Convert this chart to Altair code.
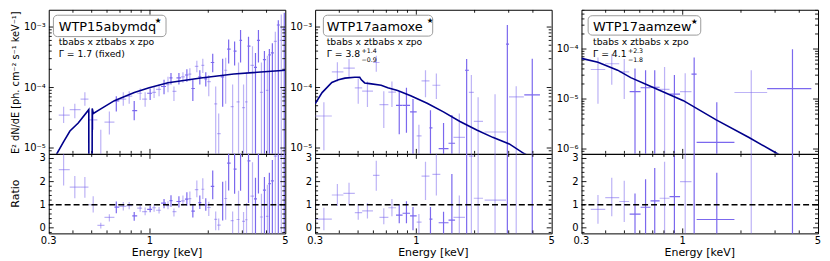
import altair as alt
import pandas as pd

# ---------------- data ----------------
names = ["WTP15abymdq", "WTP17aamoxe", "WTP17aamzew"]
model_text = "tbabs x ztbabs x zpo"
gamma_main = ["Γ = 1.7 (fixed)", "Γ = 3.8", "Γ = 4.1"]
gamma_up = ["", "+1.4", "+2.3"]
gamma_dn = ["", "−0.9", "−1.8"]
y_title = "E² dN/dE [ph. cm⁻² s⁻¹ keV⁻¹]"
r_title = "Ratio"
x_title = "Energy [keV]"

# panel 1 : WTP15abymdq
e1 = [0.358,0.409,0.461,0.509,0.557,0.617,0.670,0.728,0.781,0.829,
      0.890,0.944,1.002,1.050,1.114,1.182,1.239,1.284,1.330,1.411,
      1.480,1.551,1.607,1.665,1.746,1.809,1.874,1.942,2.012,2.109,
      2.185,2.264,2.374,2.460,2.549,2.672,2.736,2.867,2.937,3.043,
      3.153,3.228,3.385,3.507,3.633,3.765,3.901,4.041,4.137,4.287,
      4.441,4.602,4.768,4.940]
e1_lo = [0.338,0.385,0.438,0.481,0.535,0.582,0.655,0.694,0.754,0.810,
         0.859,0.911,0.967,1.026,1.075,1.141,1.210,1.261,1.307,1.370,
         1.445,1.515,1.579,1.636,1.705,1.777,1.842,1.908,1.977,2.061,
         2.147,2.225,2.319,2.417,2.504,2.610,2.704,2.800,2.901,2.990,
         3.098,3.190,3.305,3.445,3.570,3.698,3.832,3.970,4.089,4.211,
         4.363,4.521,4.684,4.853]
e1_hi = [0.385,0.438,0.481,0.535,0.582,0.655,0.694,0.754,0.810,0.859,
         0.911,0.967,1.026,1.075,1.141,1.210,1.261,1.307,1.370,1.445,
         1.515,1.579,1.636,1.705,1.777,1.842,1.908,1.977,2.061,2.147,
         2.225,2.319,2.417,2.504,2.610,2.704,2.800,2.901,2.990,3.098,
         3.190,3.305,3.445,3.570,3.698,3.832,3.970,4.089,4.211,4.363,
         4.521,4.684,4.853,5.000]
f1 = [3.5e-5,4.32e-5,6.45e-5,2.92e-5,4.8e-6,2.68e-5,6.0e-5,6.45e-5,7.2e-5,4.16e-5,
      8.04e-5,6.45e-5,8.04e-5,8.34e-5,9.29e-5,1.04e-4,1.12e-4,1.44e-4,8.65e-5,1.44e-4,
      1.50e-4,1.61e-4,1.67e-4,9.64e-5,2.23e-4,1.50e-4,2.32e-4,1.39e-4,1.25e-4,2.59e-4,
      5.37e-5,1.73e-5,1.50e-4,1.93e-4,4.32e-4,4.82e-5,4.01e-4,5.78e-5,6.0e-4,4.64e-5,
      5.78e-5,4.82e-4,2.32e-4,2.16e-4,6.0e-4,8.34e-5,2.89e-4,8.95e-5,3.47e-4,3.73e-4,
      5.78e-4,1.08e-3,6.0e-4,9.3e-4]
f1_lo = [2.59e-5,3.1e-5,4.99e-5,2.0e-5,1e-8,1.67e-5,4.01e-5,4.99e-5,5.37e-5,2.88e-5,
         6.22e-5,4.82e-5,6.22e-5,6.69e-5,7.2e-5,7.75e-5,8.34e-5,1.12e-4,6.0e-5,1.12e-4,
         1.20e-4,1.25e-4,1.29e-4,6.0e-5,1.79e-4,1.12e-4,1.73e-4,1.04e-4,7.2e-5,1.79e-4,
         1e-8,1e-8,4.82e-5,5.37e-5,2.49e-4,1e-8,2.32e-4,1e-8,2.59e-4,1e-8,
         1e-8,1.79e-4,1e-8,1e-8,2.59e-4,1e-8,1e-8,1e-8,1e-8,1e-8,
         1e-8,1e-8,1e-8,1e-8]
f1_hi = [4.82e-5,5.37e-5,8.34e-5,3.73e-5,2.0e-5,4.01e-5,7.2e-5,8.34e-5,8.65e-5,6.0e-5,
         9.64e-5,8.34e-5,9.64e-5,1.04e-4,1.12e-4,1.34e-4,1.50e-4,1.73e-4,1.04e-4,1.73e-4,
         1.79e-4,2.0e-4,2.08e-4,1.34e-4,2.78e-4,1.93e-4,2.99e-4,1.79e-4,1.61e-4,3.6e-4,
         1.04e-4,3.73e-5,2.99e-4,3.1e-4,6.22e-4,1.12e-4,5.78e-4,2.59e-4,8.96e-4,1.12e-4,
         1.79e-4,6.94e-4,4.82e-4,3.73e-4,8.96e-4,2.59e-4,4.0e-4,3.34e-4,4.32e-4,5.37e-4,
         8.33e-4,1.29e-3,1.61e-3,1.73e-3]
r1 = [2.52,1.76,1.76,1.00,0.11,0.45,0.90,0.93,0.96,0.52,
      0.85,0.70,0.80,0.87,0.76,1.07,0.96,1.18,0.70,1.14,
      1.17,1.24,1.26,0.72,1.65,1.09,1.67,0.99,0.88,1.79,
      0.37,0.12,1.00,1.27,2.80,0.31,2.54,0.36,3.70,0.28,
      0.35,2.90,1.37,1.25,3.45,0.47,1.63,0.50,1.91,2.03,
      3.10,5.70,3.10,4.80]
r1_lo = [1.83,1.28,1.30,0.66,-0.03,0.27,0.63,0.75,0.80,0.31,
         0.70,0.55,0.67,0.70,0.62,0.85,0.80,0.91,0.49,0.88,
         0.94,0.96,0.98,0.45,1.32,0.81,1.25,0.74,0.51,1.24,
         -0.10,-0.10,0.32,0.35,1.62,-0.30,1.47,-0.30,1.60,-0.30,
         -0.30,1.08,-0.30,-0.30,1.49,-0.30,-0.30,-0.30,-0.30,-0.30,
         -0.30,-0.30,-0.30,-0.30]
r1_hi = [3.20,2.24,2.20,1.37,0.22,0.59,1.14,1.12,1.12,0.69,
         1.00,0.88,0.95,1.02,0.90,1.25,1.15,1.41,0.84,1.37,
         1.40,1.54,1.57,1.00,2.05,1.40,2.15,1.28,1.13,2.48,
         0.71,0.40,1.99,2.04,4.00,0.71,3.66,1.61,5.40,0.68,
         1.08,4.16,2.84,2.17,5.16,1.47,2.20,1.86,2.38,2.93,
         4.48,7.00,8.40,8.90]
g1 = ["b","b","b","b","b","b","a","b","b","a",
      "b","b","a","b","b","a","b","a","b","a",
      "b","a","b","a","b","a","b","a","b","a",
      "b","b","a","b","a","b","a","b","a","b",
      "b","a","b","a","a","b","a","b","a","a",
      "b","a","b","a"]
em1 = [0.325,0.330,0.357,0.386,0.426,0.483,0.484,0.502,0.503,0.510,0.560,0.655,0.830,0.990,1.240,1.830,2.710,5.000]
fm1 = [6.5e-6,8.0e-6,1.25e-5,1.91e-5,2.59e-5,4.31e-5,1e-7,1e-7,4.5e-5,3.73e-5,4.48e-5,6.07e-5,8.24e-5,9.88e-5,1.20e-4,1.44e-4,1.67e-4,1.93e-4]

# panel 2 : WTP17aamoxe
e2 = [0.333,0.391,0.449,0.501,0.559,0.621,0.679,0.748,0.816,0.889,0.961,1.031,1.115,
      1.183,1.269,1.382,1.526,1.667,1.819,1.924,2.085,2.55,2.952,3.28,3.97]
e2_lo = [0.300,0.366,0.420,0.481,0.525,0.597,0.645,0.717,0.785,0.849,0.928,1.004,1.064,
         1.169,1.211,1.304,1.466,1.555,1.783,1.868,1.981,2.253,2.906,3.01,3.61]
e2_hi = [0.366,0.420,0.481,0.525,0.597,0.645,0.717,0.785,0.849,0.928,1.004,1.064,1.169,
         1.211,1.330,1.466,1.585,1.783,1.868,1.981,2.209,2.906,3.01,3.59,4.35]
f2 = [3.38e-5,1.82e-4,2.1e-4,9.9e-5,8.7e-5,2.59e-4,5.2e-5,8.4e-5,5.05e-5,5.05e-5,3.96e-5,1.59e-5,1.29e-4,
      2.15e-5,1.09e-4,9.75e-6,1.2e-5,1.5e-5,1.93e-4,8.3e-5,2.75e-5,1.84e-5,5.2e-4,7.0e-5,7.55e-5]
f2_lo = [9.2e-6,1.26e-4,1.43e-4,5.37e-5,4.76e-5,1.82e-4,2.15e-5,4.76e-5,1.69e-5,1.79e-5,1e-8,1e-8,6.9e-5,
         1e-8,6.45e-5,1e-8,1e-8,1e-8,1e-8,1e-8,1e-8,1e-8,1e-8,1e-8,1e-8]
f2_hi = [5.7e-5,2.61e-4,2.96e-4,1.43e-4,1.26e-4,3.34e-4,8.7e-5,1.26e-4,8.7e-5,9.9e-5,6.45e-5,2.43e-5,1.93e-4,
         4.2e-5,1.71e-4,2.59e-5,3.5e-5,3.73e-5,2.96e-4,1.61e-4,6.9e-5,7.75e-5,1.08e-3,1.05e-4,3.0e-4]
r2 = [0.38,1.42,1.49,0.66,0.73,2.27,0.45,0.87,0.55,0.63,0.52,0.25,2.24,
      0.38,2.31,0.22,0.33,0.45,7.9,3.1,1.28,1.20,40.0,7.0,12.0]
r2_lo = [-0.10,0.95,1.00,0.35,0.40,1.60,0.15,0.50,0.20,0.20,-0.10,-0.30,1.20,
         -0.30,1.40,-0.30,-0.30,-0.30,-0.30,-0.30,-0.30,-0.30,-0.30,-0.30,-0.30]
r2_hi = [0.87,1.90,1.95,1.00,1.07,2.90,0.85,1.25,1.00,1.15,0.90,0.60,2.86,
         0.90,3.40,0.70,2.33,1.40,12.0,7.0,3.40,5.0,90.0,10.0,40.0]
g2 = ["b","b","b","b","b","b","b","b","a","a","a","b","b",
      "a","b","a","a","b","a","b","b","b","a","b","a"]
em2 = [0.300,0.326,0.366,0.396,0.428,0.481,0.510,0.520,0.541,0.574,0.658,0.712,0.800,
       0.935,1.137,1.380,1.680,2.050,2.480,3.020,3.600,5.000]
fm2 = [5.37e-5,8.24e-5,1.21e-4,1.34e-4,1.43e-4,1.48e-4,1.48e-4,1.34e-4,1.19e-4,1.16e-4,1.09e-4,9.9e-5,8.95e-5,
       7.3e-5,5.5e-5,3.96e-5,2.75e-5,1.98e-5,1.50e-5,1.17e-5,8.1e-6,4.7e-6]

# panel 3 : WTP17aamzew
e3 = [0.365,0.430,0.499,0.567,0.643,0.717,0.806,0.906,1.030,1.146,1.50,2.26,3.69]
e3_lo = [0.335,0.398,0.470,0.532,0.606,0.682,0.760,0.855,0.969,1.110,1.180,1.850,2.730]
e3_hi = [0.398,0.470,0.529,0.606,0.682,0.760,0.855,0.969,1.110,1.180,1.850,2.730,4.620]
f3 = [3.9e-5,5.08e-5,3.5e-5,1.41e-5,1.68e-5,1.72e-5,1.56e-5,1.25e-5,1.41e-5,3.16e-5,1.36e-6,1.35e-5,1.61e-5]
f3_lo = [8.0e-6,1.94e-5,1.0e-5,1e-9,1e-9,1e-9,1e-9,1e-9,1e-9,1e-9,1e-9,1e-9,1e-9]
f3_hi = [6.8e-5,7.9e-5,6.3e-5,4.07e-5,3.78e-5,3.78e-5,4.37e-5,3.03e-5,3.26e-5,6.8e-5,8.65e-6,3.78e-5,9.87e-5]
r3 = [0.80,1.31,1.14,0.59,0.89,1.17,1.28,1.35,2.00,3.50,0.36,9.0,20.0]
r3_lo = [0.18,0.50,0.25,-0.30,-0.30,-0.30,-0.30,-0.30,-0.30,-0.30,-0.30,-0.30,-0.30]
r3_hi = [1.42,2.17,2.04,1.49,2.10,2.59,2.86,3.14,4.50,8.00,2.38,25.0,100.0]
g3 = ["b","b","b","a","a","a","b","a","b","a","a","b","a"]
em3 = [0.300,0.365,0.461,0.539,0.681,1.008,1.490,2.200,3.010,5.000]
fm3 = [6.5e-5,5.45e-5,3.78e-5,2.68e-5,1.80e-5,9.27e-6,3.83e-6,1.70e-6,8.5e-7,2.8e-7]

# axis ticks and tick labels
x_major = [1.0]
x_minor = [0.4, 0.5, 0.6, 0.7, 0.8, 0.9, 2.0, 3.0, 4.0]
x_lab_v = [0.3, 1.0, 5.0]
x_lab_t = ["0.3", "1", "5"]
y12_major = [1e-5, 1e-4, 1e-3]
y12_labels = ["10⁻⁵", "10⁻⁴", "10⁻³"]
y12_minor = [9e-6, 2e-5, 3e-5, 4e-5, 5e-5, 6e-5, 7e-5, 8e-5, 9e-5,
             2e-4, 3e-4, 4e-4, 5e-4, 6e-4, 7e-4, 8e-4, 9e-4]
y3_major = [1e-6, 1e-5, 1e-4]
y3_labels = ["10⁻⁶", "10⁻⁵", "10⁻⁴"]
y3_minor = [9e-7, 2e-6, 3e-6, 4e-6, 5e-6, 6e-6, 7e-6, 8e-6, 9e-6,
            2e-5, 3e-5, 4e-5, 5e-5, 6e-5, 7e-5, 8e-5, 9e-5, 2e-4, 3e-4, 4e-4, 5e-4, 6e-4]
r_major = [0, 1, 2, 3]
r_labels = ["0", "1", "2", "3"]
r_minor = [-0.2, 0.2, 0.4, 0.6, 0.8, 1.2, 1.4, 1.6, 1.8, 2.2, 2.4, 2.6, 2.8]

# ---------------- style / layout ----------------
W, H1, H2 = 238, 145, 80
PURPLE = "#7B68EE"
NAVY = "#00008B"
FONT = "DejaVu Sans"
XS = alt.Scale(type="log", domain=[0.3, 5.0], nice=False)
RS = alt.Scale(type="linear", domain=[-0.24, 3.2], nice=False, zero=False)
YS12 = alt.Scale(type="log", domain=[8.0e-6, 1.93e-3], nice=False)
YS3 = alt.Scale(type="log", domain=[8.0e-7, 6.1e-4], nice=False)
OPA = alt.Opacity("g:N", scale=alt.Scale(domain=["a", "b"], range=[1.0, 0.5]), legend=None)


def tick_layers(major, minor, orient, scale, w, h):
    out = []
    for vals, L in ((major, 5), (minor, 3)):
        base = alt.Chart(pd.DataFrame({"v": vals})).mark_rule(
            color="black", strokeWidth=0.9, clip=True)
        if orient == "y":
            y = alt.Y("v:Q", scale=scale, axis=None)
            out.append(base.encode(y=y, x=alt.value(0), x2=alt.value(L)))
            out.append(base.encode(y=y, x=alt.value(w - L), x2=alt.value(w)))
        else:
            x = alt.X("v:Q", scale=scale, axis=None)
            out.append(base.encode(x=x, y=alt.value(h - L), y2=alt.value(h)))
            out.append(base.encode(x=x, y=alt.value(0), y2=alt.value(L)))
    return out


def y_labels(vals, texts, scale):
    return alt.Chart(pd.DataFrame({"v": vals, "t": texts})).mark_text(
        align="right", baseline="middle", fontSize=10, font=FONT, color="black"
    ).encode(y=alt.Y("v:Q", scale=scale, axis=None), x=alt.value(-3), text="t:N")


def x_labels(vals, texts, h):
    return alt.Chart(pd.DataFrame({"v": vals, "t": texts})).mark_text(
        align="center", baseline="top", fontSize=10, font=FONT, color="black"
    ).encode(x=alt.X("v:Q", scale=XS, axis=None), y=alt.value(h + 3), text="t:N")


def label(txt, x, y, size, align="left", baseline="alphabetic", angle=0):
    return alt.Chart(pd.DataFrame({"t": [txt]})).mark_text(
        align=align, baseline=baseline, fontSize=size, font=FONT, color="black",
        angle=angle
    ).encode(text="t:N", x=alt.value(x), y=alt.value(y))


def box(x0, x1, y0, y1):
    return alt.Chart(pd.DataFrame({"t": [0]})).mark_rect(
        cornerRadius=4, fill="white", stroke="#9a9a9a", strokeWidth=1
    ).encode(x=alt.value(x0), x2=alt.value(x1), y=alt.value(y0), y2=alt.value(y1))


def make_df(e, elo, ehi, f, flo, fhi, r, rlo, rhi, g):
    return pd.DataFrame(dict(e=e, elo=elo, ehi=ehi, f=f, flo=flo, fhi=fhi,
                             r=r, rlo=rlo, rhi=rhi, g=g))


def err_layers(df, yc, ylo, yhi, ys):
    xe = alt.Chart(df).mark_rule(color=PURPLE, strokeWidth=1.2, clip=True).encode(
        x=alt.X("elo:Q", scale=XS, axis=None), x2="ehi:Q",
        y=alt.Y(f"{yc}:Q", scale=ys, axis=None), opacity=OPA)
    ye = alt.Chart(df).mark_rule(color=PURPLE, strokeWidth=1.2, clip=True).encode(
        x=alt.X("e:Q", scale=XS, axis=None),
        y=alt.Y(f"{ylo}:Q", scale=ys, axis=None), y2=f"{yhi}:Q", opacity=OPA)
    return [xe, ye]


def top_panel(df, em, fm, ys, ymaj, ylab, ymin, show_title, i, bx, tx, star):
    model = alt.Chart(pd.DataFrame({"em": em, "fm": fm})).mark_line(
        color=NAVY, strokeWidth=1.6, clip=True).encode(
        x=alt.X("em:Q", scale=XS, axis=None),
        y=alt.Y("fm:Q", scale=ys, axis=None))
    layers = err_layers(df, "f", "flo", "fhi", ys) + \
        tick_layers(ymaj, ymin, "y", ys, W, H1) + \
        tick_layers(x_major, x_minor, "x", XS, W, H1) + [model]
    layers.append(y_labels(ymaj, ylab, ys))
    if show_title:
        layers.append(label(y_title, -30, H1 / 2 + 1, 9.8, align="center", angle=270))
    layers.append(box(*bx))
    layers.append(label(names[i], tx, 21.5, 13))
    layers.append(label("★", star[0], star[1], 7.5, align="center", baseline="middle"))
    layers.append(label(model_text, tx, 35.5, 9.3))
    layers.append(label(gamma_main[i], tx, 47.5, 9.3))
    if gamma_up[i]:
        layers.append(label(gamma_up[i], tx + 35, 43.5, 6.3))
        layers.append(label(gamma_dn[i], tx + 35, 53, 6.3))
    return alt.layer(*layers).properties(width=W, height=H1)


def ratio_panel(df, show_title):
    one = alt.Chart(pd.DataFrame({"u": [1.0]})).mark_rule(
        color="black", strokeDash=[6, 3], strokeWidth=1.5).encode(
        y=alt.Y("u:Q", scale=RS, axis=None))
    layers = err_layers(df, "r", "rlo", "rhi", RS) + \
        tick_layers(r_major, r_minor, "y", RS, W, H2) + \
        tick_layers(x_major, x_minor, "x", XS, W, H2) + [one]
    layers.append(y_labels(r_major, r_labels, RS))
    layers.append(x_labels(x_lab_v, x_lab_t, H2))
    layers.append(label(x_title, W / 2, H2 + 22.5, 11, align="center"))
    if show_title:
        layers.append(label(r_title, -30, H2 / 2, 11, align="center", angle=270))
    return alt.layer(*layers).properties(width=W, height=H2)


d1 = make_df(e1, e1_lo, e1_hi, f1, f1_lo, f1_hi, r1, r1_lo, r1_hi, g1)
d2 = make_df(e2, e2_lo, e2_hi, f2, f2_lo, f2_hi, r2, r2_lo, r2_hi, g2)
d3 = make_df(e3, e3_lo, e3_hi, f3, f3_lo, f3_hi, r3, r3_lo, r3_hi, g3)

t1 = top_panel(d1, em1, fm1, YS12, y12_major, y12_labels, y12_minor, True, 0,
               (4.7, 118, 5.5, 27), 10, (110, 11.5))
t2 = top_panel(d2, em2, fm2, YS12, y12_major, y12_labels, y12_minor, False, 1,
               (8.3, 118.3, 5.5, 26.5), 11.7, (115.7, 11))
t3 = top_panel(d3, em3, fm3, YS3, y3_major, y3_labels, y3_minor, False, 2,
               (6.7, 120, 6, 25.5), 11.7, (113.5, 12))
b1 = ratio_panel(d1, True)
b2 = ratio_panel(d2, False)
b3 = ratio_panel(d3, False)

chart = alt.concat(t1, t2, t3, b1, b2, b3, columns=3,
                   spacing={"row": 0, "column": 30}, bounds="flush").properties(
    padding={"left": 1, "top": 0, "right": 0, "bottom": 0}
).configure_view(stroke="black", strokeWidth=1)

chart.save("out.html", embed_options={"renderer": "svg", "actions": False})
